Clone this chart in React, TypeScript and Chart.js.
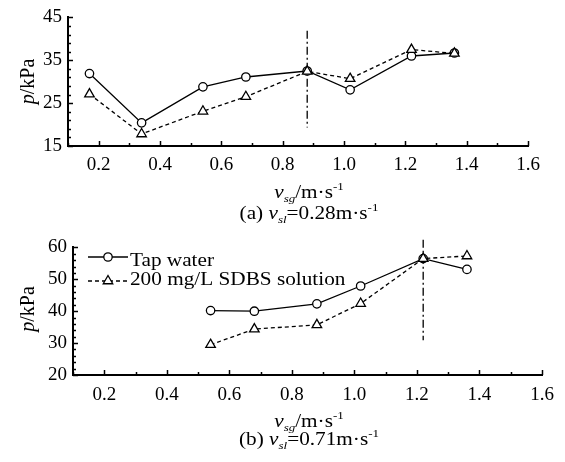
import React, { useEffect, useRef } from "react";
import { Chart, registerables } from "chart.js";

Chart.register(...registerables);

const SERIF = '"Liberation Serif", "Times New Roman", Times, serif';
const SX = 1.18;

// ---------- data ----------
const seriesNames = ["Tap water", "200 mg/L SDBS solution"];
const xTickLabels = ["0.2", "0.4", "0.6", "0.8", "1.0", "1.2", "1.4", "1.6"];

// (a) v_sl = 0.28 m/s
const vsgA = [0.17, 0.34, 0.54, 0.68, 0.88, 1.02, 1.22, 1.36];
const tapA = [31.9, 20.4, 28.8, 31.1, 32.5, 28.1, 36.0, 36.7];
const sdbsA = [27.1, 17.8, 23.1, 26.5, 32.4, 30.7, 37.5, 36.6];
const yTickLabelsA = ["15", "25", "35", "45"];
const transitionA = [0.88];
const transitionSpanA = [41.9, 19.3];

// (b) v_sl = 0.71 m/s
const vsgB = [0.54, 0.68, 0.88, 1.02, 1.22, 1.36];
const tapB = [40.2, 40.0, 42.3, 47.9, 56.5, 53.1];
const sdbsB = [29.5, 34.4, 35.7, 42.4, 56.5, 57.3];
const yTickLabelsB = ["20", "30", "40", "50", "60"];
const transitionB = [1.22];
const transitionSpanB = [62.4, 30.9];

type Seg = { t: string; it?: boolean; sz?: number; dy?: number };

function fontOf(s: Seg) {
  return `${s.it ? "italic " : ""}${s.sz || 18}px ${SERIF}`;
}

function drawSegs(ctx: CanvasRenderingContext2D, segs: Seg[], x: number, y: number, align: "left" | "center", sx = SX) {
  ctx.save();
  ctx.translate(x, y);
  ctx.scale(sx, 1);
  ctx.textBaseline = "alphabetic";
  ctx.textAlign = "left";
  ctx.fillStyle = "#000";
  let total = 0;
  const widths = segs.map((s) => {
    ctx.font = fontOf(s);
    const w = ctx.measureText(s.t).width;
    total += w;
    return w;
  });
  let cx = align === "center" ? -total / 2 : 0;
  segs.forEach((s, i) => {
    ctx.font = fontOf(s);
    ctx.fillText(s.t, cx, s.dy || 0);
    cx += widths[i];
  });
  ctx.restore();
}

function drawTriangle(ctx: CanvasRenderingContext2D, x: number, y: number, r: number) {
  ctx.beginPath();
  ctx.moveTo(x, y - r);
  ctx.lineTo(x + 0.866 * r, y + 0.5 * r);
  ctx.lineTo(x - 0.866 * r, y + 0.5 * r);
  ctx.closePath();
  ctx.fillStyle = "#fff";
  ctx.fill();
  ctx.stroke();
}

type Spec = {
  vsg: number[];
  tap: number[];
  sdbs: number[];
  yMin: number;
  yMax: number;
  yLabels: string[];
  trX: number;
  trSpan: number[];
  padTop: number;
  padRight: number;
  yAxisW: number;
  xAxisH: number;
  xTickPad: number;
  xTitleY: number;
  captionY: number;
  tag: string;
  vsl: string;
  yTitleX: number;
  yTitleY: number;
  legend: boolean;
};

function buildConfig(spec: Spec): any {
  const decor = {
    id: "decor",
    afterDraw(chart: any) {
      const ctx: CanvasRenderingContext2D = chart.ctx;
      const { left, bottom } = chart.chartArea;
      const xs = chart.scales.x;
      const ys = chart.scales.y;
      ctx.save();
      ctx.strokeStyle = "#000";
      ctx.lineWidth = 1.5;
      // inward ticks
      xs.ticks.forEach((t: any) => {
        const px = Math.round(xs.getPixelForValue(t.value)) + 0.5;
        const len = t.label ? 5 : 3;
        ctx.beginPath();
        ctx.moveTo(px, bottom);
        ctx.lineTo(px, bottom - len);
        ctx.stroke();
      });
      ys.ticks.forEach((t: any) => {
        const py = Math.round(ys.getPixelForValue(t.value)) + 0.5;
        const len = t.label ? 5 : 3;
        ctx.beginPath();
        ctx.moveTo(left, py);
        ctx.lineTo(left + len, py);
        ctx.stroke();
      });
      ctx.restore();

      const cx = 309;
      // x title
      drawSegs(
        ctx,
        [
          { t: "v", it: true },
          { t: "sg", it: true, sz: 11, dy: 4 },
          { t: "/m·s" },
          { t: "-1", sz: 11, dy: -8 },
        ],
        cx,
        spec.xTitleY,
        "center"
      );
      // caption
      drawSegs(
        ctx,
        [
          { t: spec.tag + " " },
          { t: "v", it: true },
          { t: "sl", it: true, sz: 11, dy: 4 },
          { t: "=" + spec.vsl + "m·s" },
          { t: "-1", sz: 11, dy: -8 },
        ],
        cx,
        spec.captionY,
        "center"
      );
      // y title (rotated)
      ctx.save();
      ctx.translate(spec.yTitleX, spec.yTitleY);
      ctx.rotate(-Math.PI / 2);
      drawSegs(ctx, [{ t: "p", it: true, sz: 20 }, { t: "/kPa", sz: 20 }], 0, 0, "center", 1);
      ctx.restore();

      if (spec.legend) {
        ctx.save();
        ctx.strokeStyle = "#000";
        ctx.lineWidth = 1.3;
        // row 1
        ctx.beginPath();
        ctx.moveTo(88, 27);
        ctx.lineTo(128, 27);
        ctx.stroke();
        ctx.beginPath();
        ctx.arc(108, 27, 4.2, 0, Math.PI * 2);
        ctx.fillStyle = "#fff";
        ctx.fill();
        ctx.stroke();
        // row 2
        ctx.setLineDash([4, 3]);
        ctx.beginPath();
        ctx.moveTo(88, 51);
        ctx.lineTo(128, 51);
        ctx.stroke();
        ctx.setLineDash([]);
        drawTriangle(ctx, 108, 51, 5.5);
        ctx.restore();
        drawSegs(ctx, [{ t: seriesNames[0] }], 130, 36, "left");
        drawSegs(ctx, [{ t: seriesNames[1] }], 130, 55, "left");
      }
    },
  };

  const tickFont = { family: SERIF, size: 19 };

  return {
    type: "line",
    data: {
      datasets: [
        {
          label: seriesNames[0],
          data: spec.vsg.map((x, i) => ({ x, y: spec.tap[i] })),
          borderColor: "#000",
          borderWidth: 1.3,
          pointStyle: "circle",
          pointRadius: 4.2,
          pointBackgroundColor: "#fff",
          pointBorderColor: "#000",
          pointBorderWidth: 1.3,
          tension: 0,
          order: 2,
        },
        {
          label: seriesNames[1],
          data: spec.vsg.map((x, i) => ({ x, y: spec.sdbs[i] })),
          borderColor: "#000",
          borderWidth: 1.3,
          borderDash: [4, 3],
          pointStyle: "triangle",
          pointRadius: 5.5,
          pointBackgroundColor: "#fff",
          pointBorderColor: "#000",
          pointBorderWidth: 1.3,
          tension: 0,
          order: 1,
        },
        {
          label: "transition",
          data: spec.trSpan.map((y) => ({ x: spec.trX, y })),
          borderColor: "#000",
          borderWidth: 1.3,
          borderDash: [8, 3, 2, 3],
          pointRadius: 0,
          order: 3,
          clip: false,
        },
      ],
    },
    options: {
      responsive: false,
      animation: false,
      devicePixelRatio: 1,
      events: [],
      layout: { padding: { left: 0, top: spec.padTop, right: spec.padRight, bottom: 0 } },
      plugins: { legend: { display: false }, tooltip: { enabled: false } },
      scales: {
        x: {
          type: "linear",
          min: 0.1,
          max: 1.6,
          ticks: {
            stepSize: 0.1,
            autoSkip: false,
            maxRotation: 0,
            font: tickFont,
            color: "#000",
            padding: spec.xTickPad,
            callback: (v: number) => {
              const s = Number(v).toFixed(1);
              return xTickLabels.includes(s) ? s : "";
            },
          },
          grid: { display: false, drawTicks: false },
          border: { display: true, color: "#000", width: 2 },
          afterFit: (s: any) => {
            s.height = spec.xAxisH;
          },
        },
        y: {
          min: spec.yMin,
          max: spec.yMax,
          ticks: {
            stepSize: 2,
            autoSkip: false,
            font: tickFont,
            color: "#000",
            padding: 6,
            callback: (v: number) => {
              const s = String(Math.round(Number(v)));
              return spec.yLabels.includes(s) ? s : "";
            },
          },
          grid: { display: false, drawTicks: false },
          border: { display: true, color: "#000", width: 2 },
          afterFit: (s: any) => {
            s.width = spec.yAxisW;
          },
        },
      },
    },
    plugins: [decor],
  };
}

const specA: Spec = {
  vsg: vsgA,
  tap: tapA,
  sdbs: sdbsA,
  yMin: 15,
  yMax: 45,
  yLabels: yTickLabelsA,
  trX: transitionA[0],
  trSpan: transitionSpanA,
  padTop: 16,
  padRight: 37,
  yAxisW: 68,
  xAxisH: 84,
  xTickPad: 8,
  xTitleY: 198,
  captionY: 219,
  tag: "(a)",
  vsl: "0.28",
  yTitleX: 33.5,
  yTitleY: 81.5,
  legend: false,
};

const specB: Spec = {
  vsg: vsgB,
  tap: tapB,
  sdbs: sdbsB,
  yMin: 20,
  yMax: 60,
  yLabels: yTickLabelsB,
  trX: transitionB[0],
  trSpan: transitionSpanB,
  padTop: 16,
  padRight: 23,
  yAxisW: 73,
  xAxisH: 87,
  xTickPad: 8.5,
  xTitleY: 197,
  captionY: 215,
  tag: "(b)",
  vsl: "0.71",
  yTitleX: 33.5,
  yTitleY: 79,
  legend: true,
};

export default function App() {
  const refA = useRef<HTMLCanvasElement>(null);
  const refB = useRef<HTMLCanvasElement>(null);

  useEffect(() => {
    const a = new Chart(refA.current as HTMLCanvasElement, buildConfig(specA));
    const b = new Chart(refB.current as HTMLCanvasElement, buildConfig(specB));
    return () => {
      a.destroy();
      b.destroy();
    };
  }, []);

  return (
    <div style={{ position: "absolute", left: 0, top: 0, width: 565, height: 462, background: "#fff" }}>
      <canvas
        ref={refA}
        width={565}
        height={230}
        style={{ position: "absolute", left: 0, top: 0, width: 565, height: 230 }}
      />
      <canvas
        ref={refB}
        width={565}
        height={232}
        style={{ position: "absolute", left: 0, top: 230, width: 565, height: 232 }}
      />
    </div>
  );
}
